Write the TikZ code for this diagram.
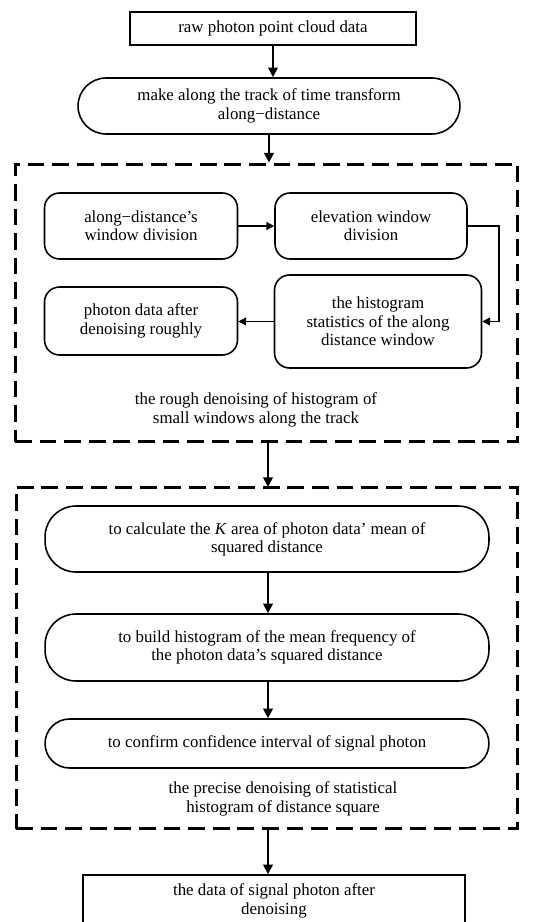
\documentclass[tikz,border=0pt]{standalone}
\usepackage{fontspec}
\setmainfont{Liberation Serif}
\usetikzlibrary{arrows.meta}

\begin{document}
\begin{tikzpicture}[x=0.02cm,y=-0.02cm,
    font=\fontsize{9.6}{10.4}\selectfont,
    plainbox/.style={draw,line width=0.9pt,align=center,inner sep=1pt},
    pillbox/.style={draw,line width=0.9pt,align=center,inner sep=1pt,rounded corners=#1},
    stepbox/.style={draw,line width=0.9pt,align=center,inner sep=1pt,rounded corners=0.3cm},
    groupbox/.style={draw,line width=1.7pt,dash pattern=on 9.5pt off 4.5pt,inner sep=0pt},
    flow/.style={line width=1.1pt,-{Triangle[length=5.5pt,width=5.5pt]}},
    innerflow/.style={line width=0.8pt,-{Triangle[length=4.5pt,width=4.5pt]}}]
    \useasboundingbox (0,0) rectangle (555,922);
    % top
    \node[plainbox,minimum width=5.72cm,minimum height=0.66cm] (raw) at (273,28.5) {raw photon point cloud data};
    \node[pillbox=0.56cm,minimum width=7.64cm,minimum height=1.12cm] (track) at (269,106) {make along the track of time transform\\along−distance};
    % rough denoising
    \node[groupbox,minimum width=10.06cm,minimum height=5.56cm] (rough) at (266.5,303) {};
    \node[stepbox,minimum width=3.86cm,minimum height=1.32cm] (alongwin) at (141,226) {along−distance’s\\window division};
    \node[stepbox,minimum width=3.84cm,minimum height=1.32cm] (elewin) at (371,226) {elevation window\\division};
    \node[stepbox,minimum width=4.14cm,minimum height=1.86cm] (histwin) at (378,321.5) {the histogram\\statistics of the along\\distance window};
    \node[stepbox,minimum width=3.86cm,minimum height=1.36cm] (roughout) at (141,321) {photon data after\\denoising roughly};
    \node[align=center] (roughcap) at (256,410) {the rough denoising of histogram of\\small windows along the track};
    % precise denoising
    \node[groupbox,minimum width=10.04cm,minimum height=6.84cm] (precise) at (267,658) {};
    \node[pillbox=0.62cm,minimum width=8.88cm,minimum height=1.32cm] (karea) at (267,539) {to calculate the \textit{K} area of photon data’ mean of\\squared distance};
    \node[pillbox=0.62cm,minimum width=8.88cm,minimum height=1.34cm] (meanhist) at (267,647.5) {to build histogram of the mean frequency of\\the photon data’s squared distance};
    \node[pillbox=0.49cm,minimum width=8.88cm,minimum height=0.98cm] (confid) at (267,743.5) {to confirm confidence interval of signal photon};
    \node[align=center] (precisecap) at (283,799) {the precise denoising of statistical\\histogram of distance square};
    % result
    \node[plainbox,minimum width=7.64cm,minimum height=1.04cm] (result) at (274,901) {the data of signal photon after\\denoising};
    % connectors
    \draw[flow] (raw.south) -- (raw.south |- track.north);
    \draw[flow] (track.south) -- (track.south |- rough.north);
    \draw[innerflow] (alongwin) -- (elewin);
    \draw[innerflow] (elewin.east) -| (499,290) |- (histwin.east);
    \draw[innerflow] (histwin.west) -- (roughout.east |- histwin.west);
    \draw[flow] (268,442) -- (268,487);
    \draw[flow] (karea.south -| 268,0) -- (meanhist.north -| 268,0);
    \draw[flow] (meanhist.south -| 268,0) -- (confid.north -| 268,0);
    \draw[flow] (268,829) -- (result.north -| 268,0);
\end{tikzpicture}
\end{document}
